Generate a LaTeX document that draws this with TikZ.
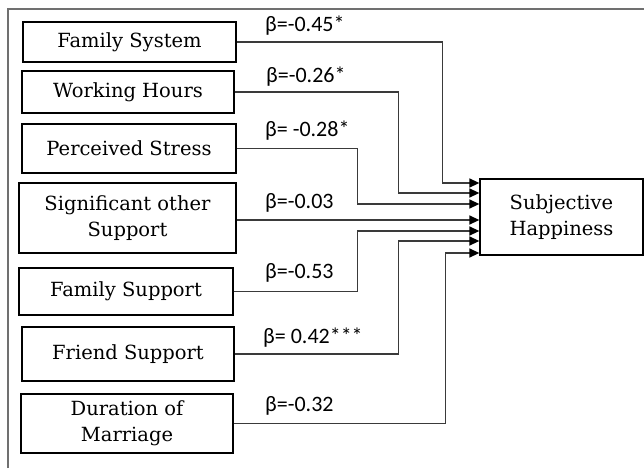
\documentclass[tikz,border=0pt]{standalone}
\usepackage{fontspec}
\newfontfamily\boxfont{DejaVu Serif}
\newfontfamily\labfont{Carlito}
\usetikzlibrary{arrows.meta}
\definecolor{linegray}{HTML}{3A3A3A}
\definecolor{framegray}{HTML}{707070}
\begin{document}
\begin{tikzpicture}[x=1pt,y=-1pt,
  varbox/.style={draw=black,line width=1.3pt,align=center,inner sep=0pt,
    font=\boxfont\fontsize{19.5}{26}\selectfont},
  conn/.style={draw=linegray,line width=1.4pt,
    -{Triangle[length=10pt,width=9pt,fill=black,color=black]}},
  beta/.style={anchor=south west,inner sep=0pt,font=\labfont\fontsize{22}{24}\selectfont},
  frame/.style={draw=framegray,line width=2.5pt}]
\useasboundingbox (0,0) rectangle (644,468);
\draw[frame] (8,468) -- (8,9) -- (644,9);

\node[varbox,minimum width=213pt,minimum height=40pt] (fs) at (129.5,42) {Family System};
\node[varbox,minimum width=212pt,minimum height=42pt] (wh) at (128,92) {Working Hours};
\node[varbox,minimum width=214pt,minimum height=49pt] (ps) at (129,148.5) {Perceived Stress};
\node[varbox,minimum width=217pt,minimum height=70pt] (so) at (127.5,218) {Significant other\\Support};
\node[varbox,minimum width=214pt,minimum height=47pt] (fsu) at (126,291.5) {Family Support};
\node[varbox,minimum width=212pt,minimum height=54pt] (frs) at (128,354) {Friend Support};
\node[varbox,minimum width=212pt,minimum height=59pt] (dm) at (127,423.5) {Duration of\\Marriage};
\node[varbox,minimum width=163pt,minimum height=76pt] (sh) at (561.5,217) {Subjective\\Happiness};

\coordinate (e1) at ([yshift=34pt]sh.west);
\coordinate (e2) at ([yshift=24pt]sh.west);
\coordinate (e3) at ([yshift=13pt]sh.west);
\coordinate (e4) at ([yshift=-3pt]sh.west);
\coordinate (e5) at ([yshift=-14pt]sh.west);
\coordinate (e6) at ([yshift=-24pt]sh.west);
\coordinate (e7) at ([yshift=-36pt]sh.west);

\draw[conn] (fs.east) -| ([xshift=-37pt]e1) -- (e1);
\draw[conn] (wh.east) -| ([xshift=-81pt]e2) -- (e2);
\draw[conn] (ps.east) -| ([xshift=-122pt]e3) -- (e3);
\draw[conn] (so.east |- e4) -- (e4);
\draw[conn] (fsu.east) -| ([xshift=-122pt]e5) -- (e5);
\draw[conn] (frs.east) -| ([xshift=-81pt]e6) -- (e6);
\draw[conn] (dm.east) -| ([xshift=-34pt]e7) -- (e7);

\node[beta] (b1) at (265,35) {β=-0.45*};
\node[beta] (b2) at (266,86) {β=-0.26*};
\node[beta] (b3) at (265,140) {β= -0.28*};
\node[beta] (b4) at (265,212) {β=-0.03};
\node[beta] (b5) at (265,282) {β=-0.53};
\node[beta] (b6) at (263,347) {β= 0.42***};
\node[beta] (b7) at (265,415) {β=-0.32};
\end{tikzpicture}
\end{document}
